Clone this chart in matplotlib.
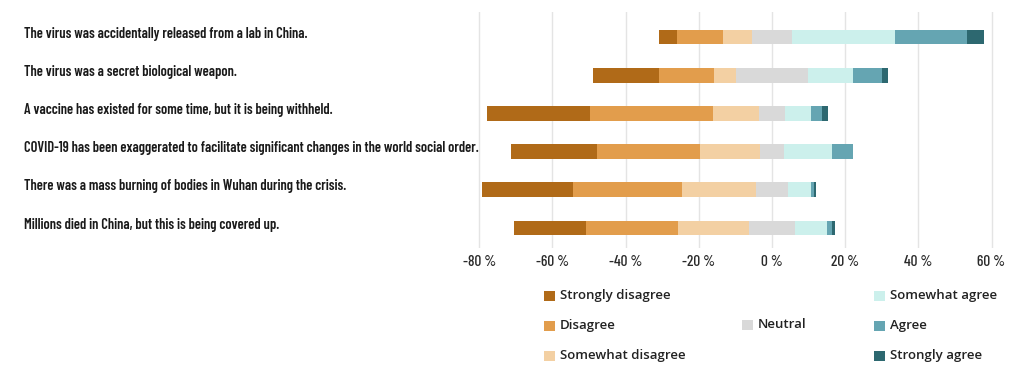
## Diverging stacked bars: agreement with COVID-19 conspiracy statements

# import the python libraries
import numpy as np
import matplotlib
matplotlib.use('Agg')
import matplotlib.pyplot as plt
from matplotlib.patches import Rectangle
from matplotlib.transforms import blended_transform_factory

# Statements (top to bottom)
statements = [
    'The virus was accidentally released from a lab in China.',
    'The virus was a secret biological weapon.',
    'A vaccine has existed for some time, but it is being withheld.',
    'COVID-19 has been exaggerated to facilitate significant changes in the world social order.',
    'There was a mass burning of bodies in Wuhan during the crisis.',
    'Millions died in China, but this is being covered up.',
]

# Response shares in percent, one list per answer category
strongly_disagree = [4.8, 18.1, 28.2, 23.5, 25.1, 19.7]
disagree = [12.5, 14.9, 33.7, 28.2, 29.6, 25.0]
somewhat_disagree = [8.0, 6.2, 12.5, 16.4, 20.3, 19.5]
neutral = [11.0, 19.5, 7.0, 6.6, 8.7, 12.4]
somewhat_agree = [28.2, 12.4, 7.2, 13.2, 6.3, 8.7]
agree = [19.6, 7.9, 3.1, 5.5, 0.7, 1.5]
strongly_agree = [4.7, 1.6, 1.4, 0.0, 0.7, 0.9]

categories = ['Strongly disagree', 'Disagree', 'Somewhat disagree', 'Neutral',
              'Somewhat agree', 'Agree', 'Strongly agree']
colors = ['#B06A18', '#E29D4C', '#F3D0A3', '#D9D9D9', '#CCF0EC', '#65A5B2', '#2D6870']

x_ticks = [-80, -60, -40, -20, 0, 20, 40, 60]

narrow = ['Barlow Condensed', 'Archivo Narrow', 'DejaVu Sans']

W, H = 1024, 384
fig = plt.figure(figsize=(W / 100, H / 100), dpi=100)
ax = fig.add_axes([464.6 / W, 1 - 248 / H, 541.6 / W, 236 / H])

series = [strongly_disagree, disagree, somewhat_disagree, neutral,
          somewhat_agree, agree, strongly_agree]
data = np.array(series).T  # rows x categories
y = np.arange(len(statements))

# neutral is centred on zero
left = -(data[:, 0] + data[:, 1] + data[:, 2] + data[:, 3] / 2)
for j in range(len(categories)):
    ax.barh(y, data[:, j], left=left, height=0.39, color=colors[j], zorder=3)
    left = left + data[:, j]

ax.set_xlim(-84, 64)
ax.set_ylim(5.524, -0.654)
ax.set_yticks([])
ax.set_xticks(x_ticks)
ax.set_xticklabels([f'{v} %' for v in x_ticks], fontfamily=narrow, fontweight='medium',
                   fontsize=11, color='#2a2a2a')
ax.tick_params(axis='x', length=0, pad=5)
ax.grid(axis='x', color='#E4E4E4', linewidth=1, zorder=0)
for s in ax.spines.values():
    s.set_visible(False)

# statement labels on the left
trans = blended_transform_factory(fig.transFigure, ax.transData)
for i, s in enumerate(statements):
    ax.text(24 / W, i - 0.09, s, transform=trans, ha='left', va='center',
            fontfamily=narrow, fontweight='semibold',
            fontsize=10.4, color='#1a1a1a')

# custom legend in three columns
legend_pos = [(544, 296), (544, 326), (544, 356), (742, 325),
              (874, 296), (874, 326), (874, 356)]
for (px, py), lab, c in zip(legend_pos, categories, colors):
    fig.patches.append(Rectangle((px / W, 1 - (py + 5) / H), 11 / W, 10 / H,
                                 transform=fig.transFigure, facecolor=c, edgecolor='none'))
    fig.text((px + 16) / W, 1 - py / H, lab, ha='left', va='center',
             fontfamily=['Open Sans', 'DejaVu Sans'], fontweight='semibold',
             fontsize=9.5, color='#222222')

fig.savefig('out.png', dpi=100)
